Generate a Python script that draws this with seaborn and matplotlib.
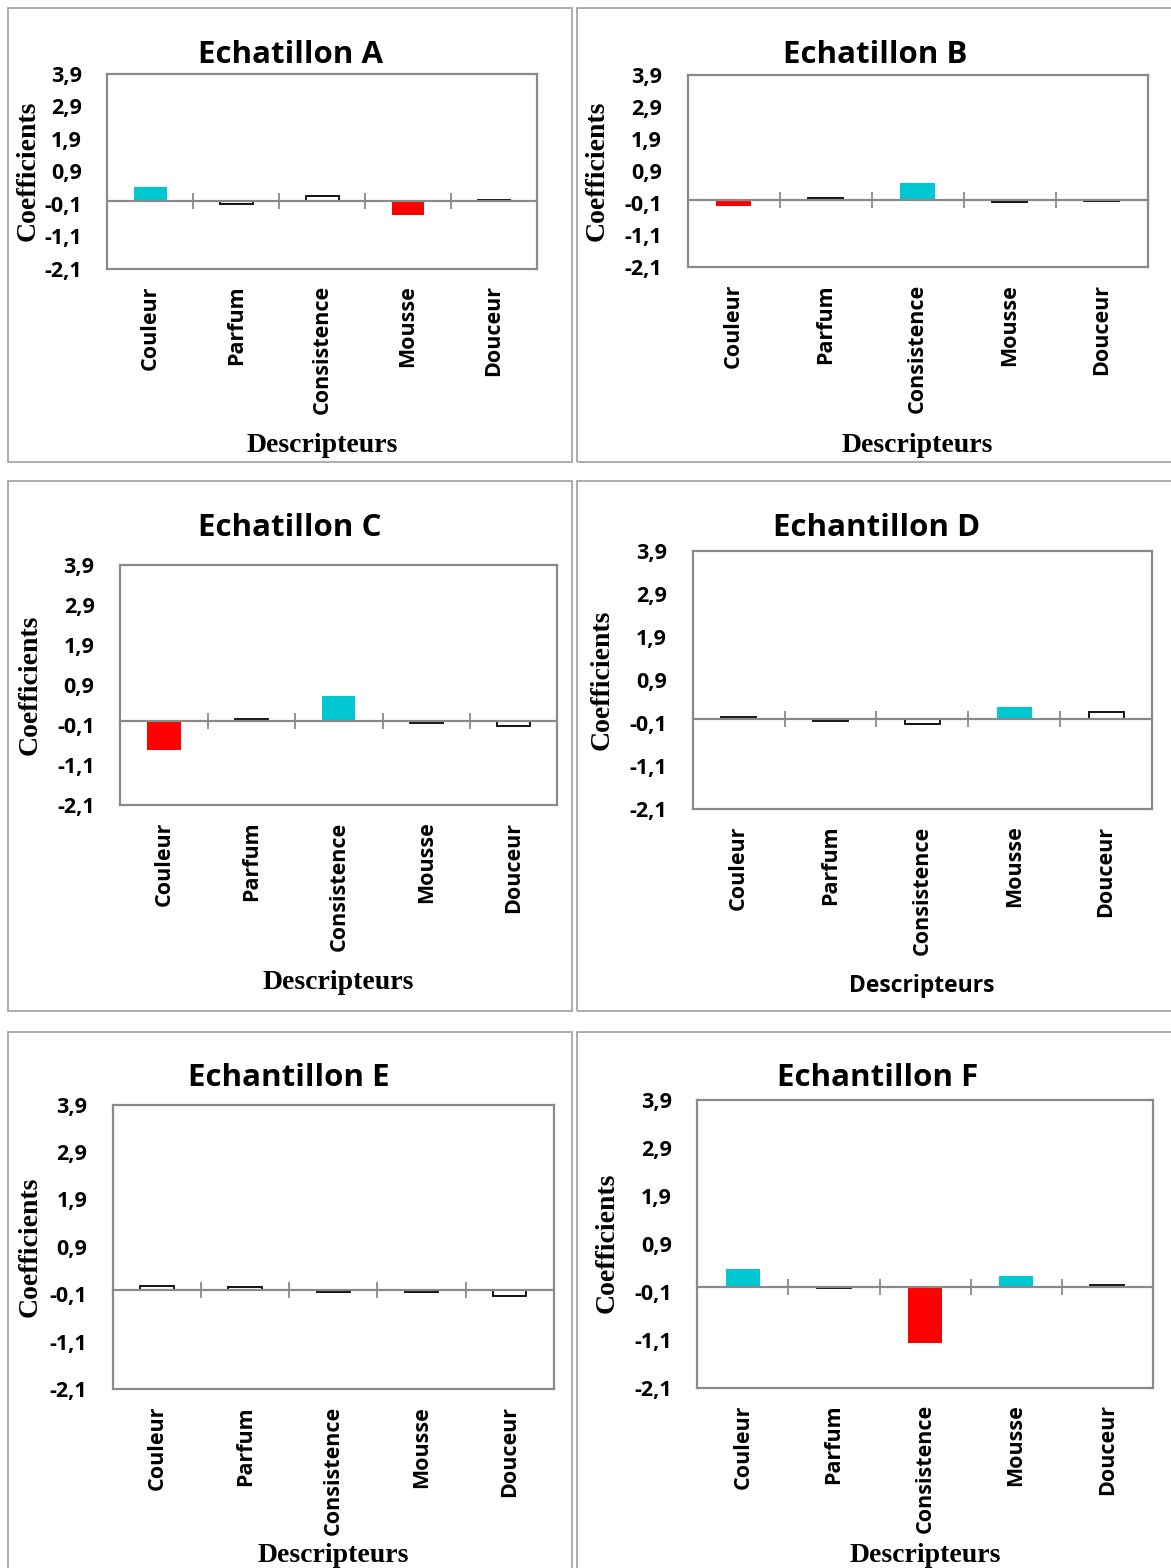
import numpy as np
import pandas as pd
import matplotlib
matplotlib.use("Agg")
import matplotlib.pyplot as plt
from matplotlib.patches import Rectangle
import seaborn as sns

# ---------------- data ----------------
descripteurs = ["Couleur", "Parfum", "Consistence", "Mousse", "Douceur"]
titles = ["Echatillon A", "Echatillon B", "Echatillon C",
          "Echantillon D", "Echantillon E", "Echantillon F"]

coef_A = [0.41, -0.11, 0.13, -0.45, 0.03]
coef_B = [-0.17, 0.07, 0.54, -0.05, -0.02]
coef_C = [-0.73, 0.05, 0.62, -0.06, -0.12]
coef_D = [0.04, -0.05, -0.13, 0.27, 0.16]
coef_E = [0.07, 0.05, -0.05, -0.04, -0.13]
coef_F = [0.38, -0.03, -1.17, 0.24, 0.05]

sig_A = [True, False, False, True, False]
sig_B = [True, False, True, False, False]
sig_C = [True, False, True, False, False]
sig_D = [False, False, False, True, False]
sig_E = [False, False, False, False, False]
sig_F = [True, False, True, True, False]

ytick_values = [-2.1, -1.1, -0.1, 0.9, 1.9, 2.9, 3.9]
ytick_labels = ["-2,1", "-1,1", "-0,1", "0,9", "1,9", "2,9", "3,9"]
y_label = "Coefficients"
x_label = "Descripteurs"

coefs = [coef_A, coef_B, coef_C, coef_D, coef_E, coef_F]
sigs = [sig_A, sig_B, sig_C, sig_D, sig_E, sig_F]

# ---------------- style ----------------
sns.set_style("white")
SANS = ["Open Sans", "DejaVu Sans"]
SERIF = ["Liberation Serif", "DejaVu Serif"]
plt.rcParams["font.family"] = SANS
plt.rcParams["text.color"] = "black"
plt.rcParams["xtick.labelcolor"] = "black"
plt.rcParams["ytick.labelcolor"] = "black"

CYAN = "#00C8D2"
RED = "#FF0000"
GRAY = "#8A8A8A"
BOX = "#A6A6A6"

W, H = 1171, 1568
fig = plt.figure(figsize=(W / 100, H / 100), dpi=100)
fig.patch.set_facecolor("white")

def fx(x):
    return x / W

def fy(y):
    return 1 - y / H

# panel frames (pixel coords: x0, y0, x1, y1)
frames = [(8, 8, 572, 462), (577, 8, 1180, 462),
          (8, 481, 572, 1011), (577, 481, 1180, 1011),
          (8, 1032, 572, 1580), (577, 1032, 1180, 1580)]
for (x0, y0, x1, y1) in frames:
    fig.patches.append(Rectangle((fx(x0), fy(y1)), fx(x1) - fx(x0), fy(y0) - fy(y1),
                                 transform=fig.transFigure, fill=False,
                                 edgecolor=BOX, linewidth=1.3, zorder=0))

# axes rectangles (pixel coords) and text positions
axes_px = [(107.4, 74.0, 537.0, 268.7), (687.5, 75.3, 1148.0, 267.3),
           (120.3, 565.2, 557.4, 804.9), (692.8, 551.4, 1152.0, 809.0),
           (113.0, 1104.6, 553.7, 1389.3), (697.4, 1100.3, 1152.7, 1387.6)]
title_pos = [(290, 55), (875, 55), (290, 528), (877, 528), (289, 1078), (878, 1078)]
ylab_pos = [(28, 171), (597, 171), (30, 685), (602, 680), (30, 1247), (607, 1243)]
xlab_pos = [(322, 445), (917, 445), (338, 982), (922, 986), (333, 1555), (925, 1555)]

ymin, ymax = ytick_values[0], ytick_values[-1]

for i in range(6):
    x0, y0, x1, y1 = axes_px[i]
    ax = fig.add_axes([fx(x0), fy(y1), fx(x1) - fx(x0), fy(y0) - fy(y1)])
    vals = coefs[i]
    colors = []
    for v, s in zip(vals, sigs[i]):
        if s:
            colors.append(CYAN if v > 0 else RED)
        else:
            colors.append("white")
    df = pd.DataFrame({"desc": descripteurs, "coef": vals})
    sns.barplot(data=df, x="desc", y="coef", hue="desc", palette=colors,
                width=0.38, saturation=1, legend=False, ax=ax, zorder=2)
    for p, s in zip(ax.patches, sigs[i]):
        if s:
            p.set_edgecolor("none")
            p.set_linewidth(0)
        else:
            p.set_edgecolor("black")
            p.set_linewidth(1.3)

    ax.set_xlim(-0.5, len(descripteurs) - 0.5)
    ax.set_ylim(ymin, ymax)
    ax.set_yticks(ytick_values)
    ax.set_yticklabels(ytick_labels, fontsize=15.5, fontweight="bold",
                       family=SANS, color="black")
    ax.set_xticks(range(len(descripteurs)))
    ax.set_xticklabels(descripteurs, rotation=90, fontsize=15.5,
                       fontweight="bold", family=SANS, color="black")
    ax.tick_params(axis="x", length=0, pad=12)
    ax.tick_params(axis="y", direction="inout", length=11, width=1.3,
                   color=GRAY, pad=13)
    ax.set_xlabel("")
    ax.set_ylabel("")
    for sp in ax.spines.values():
        sp.set_visible(True)
        sp.set_color(GRAY)
        sp.set_linewidth(1.6)

    # horizontal axis through zero, with category-boundary ticks
    loc = (0 - ymin) / (ymax - ymin)
    sec = ax.secondary_xaxis(loc)
    sec.set_xticks([k + 0.5 for k in range(len(descripteurs) - 1)])
    sec.set_xticklabels([])
    sec.tick_params(axis="x", direction="inout", length=12, width=1.3, color=GRAY)
    sec.spines["bottom"].set_color(GRAY)
    sec.spines["bottom"].set_linewidth(1.6)
    sec.set_zorder(3)

    # texts
    tx, ty = title_pos[i]
    fig.text(fx(tx), fy(ty), titles[i], ha="center", va="center",
             fontsize=22.5, fontweight="bold", family=SANS, color="black")
    lx, ly = ylab_pos[i]
    fig.text(fx(lx), fy(ly), y_label, ha="center", va="center", rotation=90,
             fontsize=20, fontweight="bold", family=SERIF, color="black")
    bx, by = xlab_pos[i]
    if i == 3:
        fig.text(fx(bx), fy(by), x_label, ha="center", va="center",
                 fontsize=16.5, fontweight="bold", family=SANS, color="black")
    else:
        fig.text(fx(bx), fy(by), x_label, ha="center", va="center",
                 fontsize=20, fontweight="bold", family=SERIF, color="black")

fig.savefig("out.png", dpi=100, facecolor="white")
